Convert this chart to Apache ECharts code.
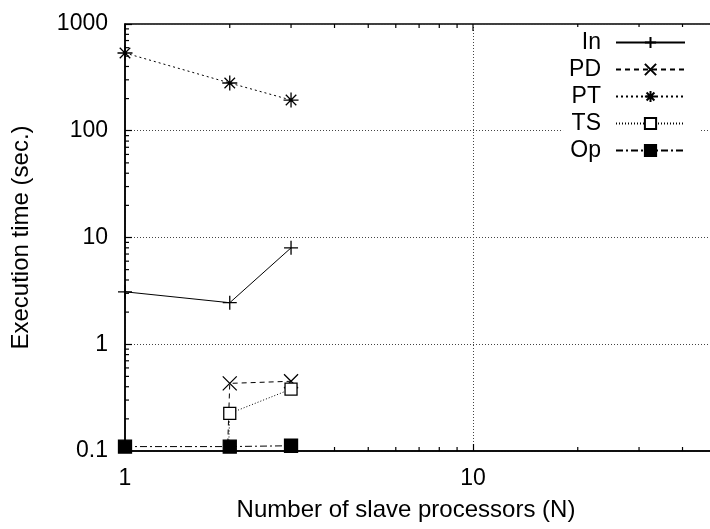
<!DOCTYPE html>
<html>
<head>
<meta charset="utf-8">
<script src="https://cdn.jsdelivr.net/npm/echarts@6/dist/echarts.min.js"></script>
<style>
html,body{margin:0;padding:0;background:#fff;overflow:hidden;}
#chart{width:710px;height:529px;}
</style>
</head>
<body>
<div id="chart"></div>
<script>
// ---- data ----
const xValues = [1, 2, 3];
const seriesNames = ['In', 'PD', 'PT', 'TS', 'Op'];
// "≈0" values at N=1 for PD and TS (plotted below the axis, only their lines enter the frame)
const valIn = [3.1, 2.45, 8.0];
const valPD = [1e-30, 0.43, 0.45];
const valPT = [535, 280, 194];
const valTS = [1e-30, 0.225, 0.38];
const valOp = [0.11, 0.11, 0.112];
// axis ticks
const xMajorTicks = [1, 10];
const xMinorTicks = [2, 3, 4, 5, 6, 7, 8, 9, 20, 30, 40, 50];
const yMinorTicks = [0.2, 0.3, 0.4, 0.5, 0.6, 0.7, 0.8, 0.9, 2, 3, 4, 5, 6, 7, 8, 9,
                     20, 30, 40, 50, 60, 70, 80, 90, 200, 300, 400, 500, 600, 700, 800, 900];

const FONT = '"Liberation Sans", Arial, sans-serif';
const pair = vals => xValues.map((x, i) => [x, vals[i]]);

const plusPath = 'path://M0,5 L10,5 M5,0 L5,10';
const crossPath = 'path://M0,0 L10,10 M10,0 L0,10';
const starPath = 'path://M0,5 L10,5 M5,0 L5,10 M1.5,1.5 L8.5,8.5 M8.5,1.5 L1.5,8.5';

function lineSeries(name, vals, symbol, size, dash, fill) {
  return {
    name: name, type: 'line', data: pair(vals),
    symbol: symbol, symbolSize: size, showSymbol: true,
    clip: true, animation: false,
    lineStyle: {color: '#000', width: 1, type: dash},
    itemStyle: {color: fill, borderColor: '#000', borderWidth: 1.3},
    z: 3
  };
}

const chart = echarts.init(document.getElementById('chart'), null, {renderer: 'canvas'});
chart.setOption({
  backgroundColor: '#fff',
  animation: false,
  grid: {left: 125, top: 24, width: 696, height: 427, show: true,
         outerBoundsMode: 'none', containLabel: false,
         borderColor: '#000', borderWidth: 1.5, backgroundColor: 'transparent'},
  xAxis: {
    type: 'log', logBase: 10, min: 1, max: 100,
    axisLine: {show: true, lineStyle: {color: '#000', width: 1.5}},
    axisTick: {show: true, inside: true, length: 7, lineStyle: {color: '#000', width: 1.2}},
    axisLabel: {fontFamily: FONT, fontSize: 23, color: '#000', margin: 16},
    splitLine: {show: true, lineStyle: {color: '#444', width: 1, type: [1, 2]}}
  },
  yAxis: {
    type: 'log', logBase: 10, min: 0.1, max: 1000,
    name: 'Execution time (sec.)', nameLocation: 'middle', nameGap: 92,
    nameTextStyle: {fontFamily: FONT, fontSize: 24, color: '#000'},
    axisLine: {show: true, lineStyle: {color: '#000', width: 1.5}},
    axisTick: {show: true, inside: true, length: 7, lineStyle: {color: '#000', width: 1.2}},
    axisLabel: {fontFamily: FONT, fontSize: 23, color: '#000', margin: 17,
                formatter: v => String(v)},
    splitLine: {show: true, lineStyle: {color: '#444', width: 1, type: [1, 2]}}
  },
  legend: {
    data: seriesNames, orient: 'vertical', align: 'right',
    right: 10, top: 27, itemWidth: 69, itemHeight: 14, itemGap: 4,
    padding: [4, 14, 4, 6], backgroundColor: '#fff',
    selectedMode: false, z: 10,
    textStyle: {fontFamily: FONT, fontSize: 23, color: '#000', lineHeight: 22, padding: [0, 10, 0, 0]}
  },
  graphic: [{
    type: 'text', x: 406, y: 498,
    style: {text: 'Number of slave processors (N)', font: '24px ' + FONT, fill: '#000',
            textAlign: 'center', textVerticalAlign: 'top'},
    z: 5
  }],
  series: [
    lineSeries('In', valIn, plusPath, 14, 'solid', 'none'),
    lineSeries('PD', valPD, crossPath, 14, [5, 4], 'none'),
    lineSeries('PT', valPT, starPath, 15, [2, 3], 'none'),
    lineSeries('TS', valTS, 'rect', 12, [1, 2], '#fff'),
    lineSeries('Op', valOp, 'rect', 13, [7, 3, 2, 3], '#000'),
    {
      type: 'custom', silent: true, animation: false, z: 4,
      data: xMinorTicks.map(v => [v, 0.1]).concat(xMajorTicks.map(v => [v, 0.1])),
      renderItem: function (params, api) {
        const v = api.value(0);
        const isMajor = xMajorTicks.indexOf(v) >= 0;
        const b = api.coord([v, 0.1]);
        const t = api.coord([v, 1000]);
        const len = 4;
        const children = [{type: 'line', shape: {x1: t[0], y1: t[1], x2: t[0], y2: t[1] + (isMajor ? 7 : len)},
                           style: {stroke: '#000', lineWidth: 1.2}}];
        if (!isMajor) children.push({type: 'line', shape: {x1: b[0], y1: b[1], x2: b[0], y2: b[1] - len},
                                     style: {stroke: '#000', lineWidth: 1.2}});
        return {type: 'group', children: children};
      }
    },
    {
      type: 'custom', silent: true, animation: false, z: 4,
      data: yMinorTicks.map(v => [1, v]),
      renderItem: function (params, api) {
        const p = api.coord([1, api.value(1)]);
        return {type: 'line', shape: {x1: p[0], y1: p[1], x2: p[0] + 4, y2: p[1]},
                style: {stroke: '#000', lineWidth: 1.2}};
      }
    }
  ]
});
</script>
</body>
</html>
